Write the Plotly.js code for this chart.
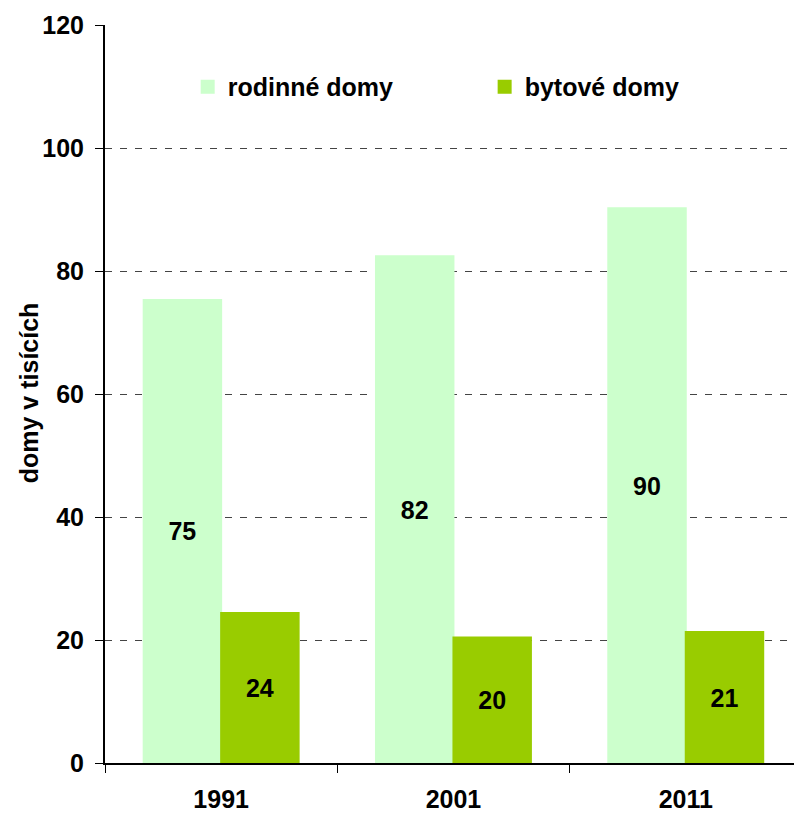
<!DOCTYPE html>
<html><head><meta charset="utf-8">
<script src="https://cdn.plot.ly/plotly-3.0.1.min.js"></script>
<style>html,body{margin:0;padding:0;background:#fff}</style>
</head><body><div id="chart" style="width:794px;height:813px"></div>
<script>
const years = ['1991', '2001', '2011'];
const rodinne = [75.3, 82.4, 90.2];
const bytove = [24.4, 20.4, 21.3];
const rodinneLabels = ['75', '82', '90'];
const bytoveLabels = ['24', '20', '21'];
const yTicks = [0, 20, 40, 60, 80, 100, 120];
const yTitle = 'domy v tisících';

const fam = 'Liberation Sans, Arial, sans-serif';
const bold = (size) => ({family: fam, size: size, color: '#000', weight: 'bold'});
const data = [
  {type: 'bar', name: 'rodinné domy', x: years, y: rodinne, text: rodinneLabels,
   textposition: 'inside', insidetextanchor: 'middle', textangle: 0, textfont: bold(25),
   marker: {color: '#CCFFCC', line: {color: '#CCFFCC', width: 2}}, hoverinfo: 'none', legend: 'legend'},
  {type: 'bar', name: 'bytové domy', x: years, y: bytove, text: bytoveLabels,
   textposition: 'inside', insidetextanchor: 'middle', textangle: 0, textfont: bold(25),
   marker: {color: '#99CC00', line: {color: '#99CC00', width: 2}}, hoverinfo: 'none', legend: 'legend2'}
];
const legendBase = {orientation: 'h', yanchor: 'middle', xanchor: 'left', y: 0.916,
  font: bold(25), bgcolor: 'rgba(0,0,0,0)', borderwidth: 0, itemwidth: 30};
const layout = {
  width: 794, height: 813,
  margin: {l: 105, r: 0, t: 25, b: 50},
  paper_bgcolor: '#fff', plot_bgcolor: '#fff',
  font: {family: fam, size: 25, color: '#000'},
  barmode: 'group', bargap: 0.333, bargroupgap: 0,
  showlegend: true,
  legend: Object.assign({}, legendBase, {x: 0.12}),
  legend2: Object.assign({}, legendBase, {x: 0.551}),
  xaxis: {type: 'category', range: [-0.5, 2.466], tickson: 'boundaries', ticks: 'outside',
    ticklen: 8, tickcolor: '#000', tickwidth: 1, showline: true, linecolor: '#000', linewidth: 2,
    showgrid: false, tickfont: bold(25), ticklabelstandoff: 13},
  yaxis: {range: [0, 120], tickvals: yTicks, ticks: 'outside', ticklen: 8, tickcolor: '#000',
    showline: true, linecolor: '#000', linewidth: 2, zeroline: false,
    showgrid: true, gridcolor: '#444', griddash: '7px,8px', gridwidth: 1,
    tickfont: bold(25), ticklabelstandoff: 6},
  annotations: [{text: yTitle, xref: 'paper', yref: 'paper', x: -0.1103, y: 0.501,
    xanchor: 'center', yanchor: 'middle', textangle: -90, showarrow: false, font: bold(25)}]
};
Plotly.newPlot('chart', data, layout, {displayModeBar: false, staticPlot: true});
</script></body></html>
